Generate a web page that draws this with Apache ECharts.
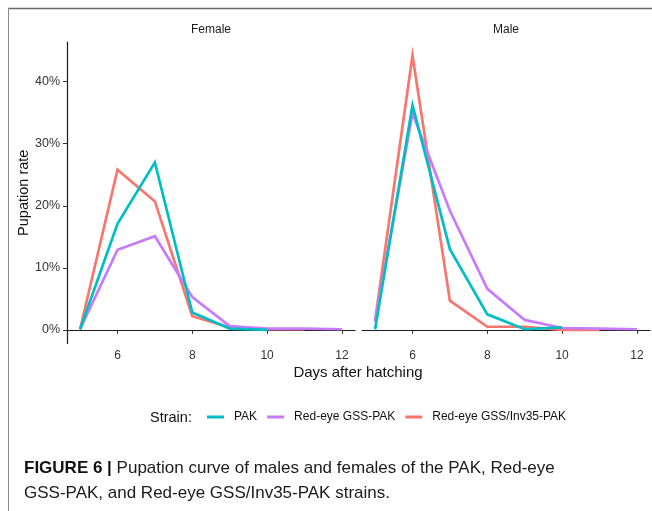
<!DOCTYPE html>
<html>
<head>
<meta charset="utf-8">
<script src="https://cdn.jsdelivr.net/npm/echarts@6/dist/echarts.min.js"></script>
<style>
html,body{margin:0;padding:0;background:#fff;}
#c{width:652px;height:511px;}
</style>
</head>
<body>
<div id="c"></div>
<script>
// ---- data (values in %) ----
const days = [5, 6, 7, 8, 9, 10, 11, 12];
const strains = ['PAK', 'Red-eye GSS-PAK', 'Red-eye GSS/Inv35-PAK'];
const panels = ['Female', 'Male'];
const femalePAK = [0.1, 17.1, 27.0, 2.8, 0.2, 0.0];
const femaleGSS = [0.1, 12.9, 15.1, 5.3, 0.6, 0.2, 0.2, 0.1];
const femaleInv = [0.1, 25.8, 20.7, 2.2, 0.4, 0.1, 0.1];
const malePAK = [0.1, 36.2, 13.0, 2.5, 0.1, 0.4];
const maleGSS = [1.3, 34.9, 19.2, 6.6, 1.6, 0.3, 0.2, 0.1];
const maleInv = [1.5, 44.2, 4.7, 0.5, 0.5, 0.0, 0.0];
const yTicks = [0, 10, 20, 30, 40];
const xTicks = [6, 8, 10, 12];

const colors = {'PAK': '#00BFC4', 'Red-eye GSS-PAK': '#C77CFF', 'Red-eye GSS/Inv35-PAK': '#F8766D'};
const FONT = "'Liberation Sans', Arial, sans-serif";

function pairs(vals) { return vals.map((v, i) => [days[i], v]); }

const panelData = [
  {'PAK': femalePAK, 'Red-eye GSS-PAK': femaleGSS, 'Red-eye GSS/Inv35-PAK': femaleInv},
  {'PAK': malePAK, 'Red-eye GSS-PAK': maleGSS, 'Red-eye GSS/Inv35-PAK': maleInv}
];

const gridTop = 42, gridH = 301.5, gridW = 288;
const grids = [
  {left: 67, top: gridTop, width: gridW, height: gridH},
  {left: 362, top: gridTop, width: gridW, height: gridH}
];

const axisLine = {show: true, lineStyle: {color: '#1a1a1a', width: 1.2}};
const xAxes = grids.map((g, i) => ({
  type: 'value', gridIndex: i, min: 4.65, max: 12.35,
  axisLine: axisLine,
  axisTick: {show: true, length: 4, customValues: xTicks, lineStyle: {color: '#333', width: 1}},
  axisLabel: {customValues: xTicks, color: '#333', fontSize: 12, fontFamily: FONT, margin: 6},
  splitLine: {show: false}
}));
const yAxes = grids.map((g, i) => ({
  type: 'value', gridIndex: i, min: -2.2, max: 46.4,
  show: i === 0,
  name: i === 0 ? 'Pupation rate' : '',
  nameLocation: 'middle', nameGap: 36, nameRotate: 90,
  nameTextStyle: {fontSize: 14.5, color: '#111', fontFamily: FONT},
  axisLine: axisLine,
  axisTick: {show: true, length: 4, customValues: yTicks, lineStyle: {color: '#333', width: 1}},
  axisLabel: {customValues: yTicks, formatter: '{value}%', color: '#333', fontSize: 12.5, fontFamily: FONT, margin: 7},
  splitLine: {show: false}
}));

const drawOrder = ['Red-eye GSS/Inv35-PAK', 'Red-eye GSS-PAK', 'PAK'];
const series = [];
panelData.forEach((pd, i) => {
  drawOrder.forEach((s, k) => {
    series.push({
      name: s, type: 'line', xAxisIndex: i, yAxisIndex: i,
      data: pairs(pd[s]), showSymbol: false, symbol: 'none',
      lineStyle: {color: colors[s], width: 2.7, join: 'miter'},
      itemStyle: {color: colors[s]},
      z: 2 + k, silent: true, animation: false
    });
  });
});

const chart = echarts.init(document.getElementById('c'), null, {renderer: 'canvas'});
chart.setOption({
  backgroundColor: '#fff',
  animation: false,
  grid: grids,
  xAxis: xAxes,
  yAxis: yAxes,
  legend: {
    data: strains, left: 202, top: 406, icon: 'rect', itemWidth: 17, itemHeight: 3,
    itemGap: 10, selectedMode: false,
    textStyle: {fontSize: 12, color: '#111', fontFamily: FONT, padding: [0, 0, 0, 5]}
  },
  series: series,
  graphic: [
    {type: 'line', shape: {x1: 8, y1: 8.5, x2: 652, y2: 8.5}, style: {stroke: '#6a6a6a', lineWidth: 1.5}},
    {type: 'line', shape: {x1: 8.5, y1: 8, x2: 8.5, y2: 511}, style: {stroke: '#8a8a8a', lineWidth: 1}},
    {type: 'text', x: 211, y: 30, style: {text: panels[0], fill: '#1a1a1a', font: '12px ' + FONT, align: 'center', verticalAlign: 'middle'}},
    {type: 'text', x: 506, y: 30, style: {text: panels[1], fill: '#1a1a1a', font: '12px ' + FONT, align: 'center', verticalAlign: 'middle'}},
    {type: 'text', x: 358, y: 373, style: {text: 'Days after hatching', font: '15px ' + FONT, fill: '#111', align: 'center', verticalAlign: 'middle'}},
    {type: 'text', x: 150, y: 417.5, style: {text: 'Strain:', font: '14.5px ' + FONT, fill: '#111', align: 'left', verticalAlign: 'middle'}},
    {type: 'text', x: 24, y: 468, style: {
      text: '{b|FIGURE 6 |} Pupation curve of males and females of the PAK, Red-eye',
      font: '17px ' + FONT, fill: '#1a1a1a', align: 'left', verticalAlign: 'middle',
      rich: {b: {fontWeight: 'bold', fontSize: 17, fontFamily: FONT, fill: '#111'}}
    }},
    {type: 'text', x: 24, y: 493, style: {
      text: 'GSS-PAK, and Red-eye GSS/Inv35-PAK strains.',
      font: '17px ' + FONT, fill: '#1a1a1a', align: 'left', verticalAlign: 'middle'
    }}
  ]
});
</script>
</body>
</html>
